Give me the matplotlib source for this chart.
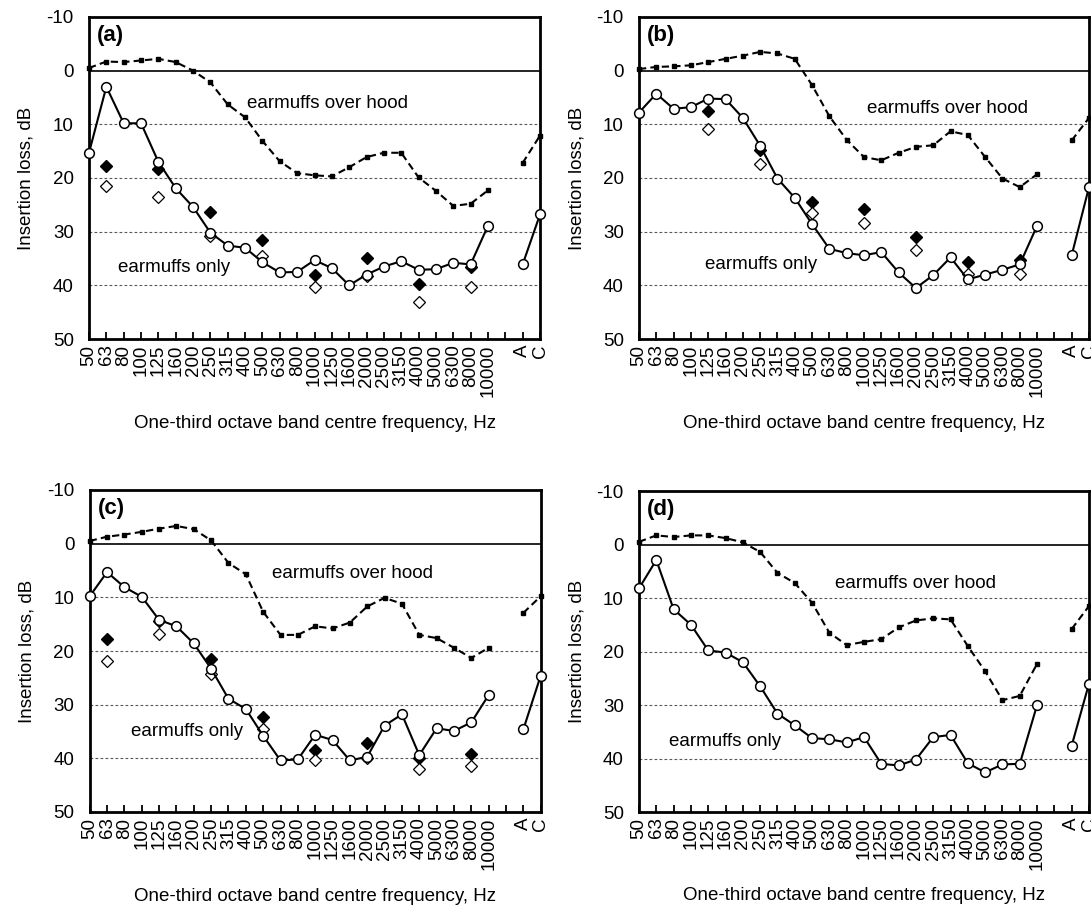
"""
insertion loss of earmuffs, four panels
"""

import numpy as np
import matplotlib as mpl
mpl.use('Agg')
import matplotlib.pyplot as plt

# one-third octave bands, then the A and C weighted totals
bands = ['50','63','80','100','125','160','200','250','315','400','500',
         '630','800','1000','1250','1600','2000','2500','3150','4000',
         '5000','6300','8000','10000']
ratings = ['A','C']

# earmuffs over hood (dashed, small squares)
hood_a = [-0.5,-1.7,-1.6,-1.9,-2.2,-1.6,0.0,2.2,6.3,8.7,13.1,16.9,19.1,19.5,
          19.7,18.0,16.1,15.3,15.3,19.9,22.4,25.2,24.8,22.3]
hood_b = [-0.3,-0.7,-0.8,-1.0,-1.6,-2.2,-2.8,-3.5,-3.2,-2.2,2.7,8.5,12.9,16.1,
          16.7,15.3,14.2,13.9,11.3,12.0,16.1,20.1,21.7,19.3]
hood_c = [-0.5,-1.3,-1.7,-2.2,-2.8,-3.3,-2.7,-0.6,3.6,5.7,12.7,17.0,17.0,15.4,
          15.8,14.7,11.7,10.1,11.2,17.0,17.6,19.4,21.3,19.4]
hood_d = [-0.5,-1.7,-1.4,-1.7,-1.7,-1.2,-0.4,1.4,5.3,7.2,10.9,16.5,18.8,18.2,
          17.7,15.5,14.2,13.8,14.0,19.0,23.7,29.1,28.3,22.3]
hood_ac = [[17.2,12.1],[13.0,8.8],[12.9,9.8],[15.8,11.5]]

# earmuffs only (solid, open circles)
only_a = [15.3,3.0,9.8,9.8,17.0,21.9,25.4,30.2,32.6,33.0,35.7,37.6,37.5,35.3,
          36.8,40.0,38.0,36.5,35.5,37.1,37.0,35.8,36.1,28.9]
only_b = [7.8,4.3,7.1,6.8,5.2,5.3,8.8,14.0,20.1,23.7,28.6,33.2,34.0,34.4,
          33.8,37.6,40.5,38.1,34.8,38.9,38.0,37.1,36.1,28.9]
only_c = [9.8,5.3,8.1,9.9,14.2,15.4,18.6,23.3,28.9,30.8,35.8,40.4,40.2,35.6,
          36.6,40.4,39.7,33.9,31.8,39.4,34.4,34.9,33.3,28.2]
only_d = [8.2,2.9,12.1,15.0,19.8,20.2,22.0,26.5,31.6,33.8,36.2,36.4,37.0,36.0,
          41.0,41.3,40.2,36.0,35.6,40.9,42.6,41.1,41.0,30.0]
only_ac = [[36.1,26.8],[34.4,21.7],[34.6,24.6],[37.6,26.0]]

# diamonds (filled and open), panels a-c only
dia_bands_a = ['63','125','250','500','1000','2000','4000','8000']
dia_full_a = [17.8,18.3,26.3,31.6,38.1,34.9,39.8,36.6]
dia_open_a = [21.4,23.5,30.9,34.5,40.3,38.2,43.1,40.3]
dia_bands_b = ['125','250','500','1000','2000','4000','8000']
dia_full_b = [7.6,14.8,24.4,25.7,31.0,35.7,35.3]
dia_open_b = [10.9,17.3,26.5,28.3,33.5,37.8,37.9]
dia_bands_c = ['63','125','250','500','1000','2000','4000','8000']
dia_full_c = [17.8,14.5,21.5,32.3,38.4,37.1,39.9,39.2]
dia_open_c = [21.8,16.8,24.3,34.6,40.4,39.9,41.9,41.4]

panels = ['(a)','(b)','(c)','(d)']
hood = [hood_a,hood_b,hood_c,hood_d]
only = [only_a,only_b,only_c,only_d]
dia = [(dia_bands_a,dia_full_a,dia_open_a),
       (dia_bands_b,dia_full_b,dia_open_b),
       (dia_bands_c,dia_full_c,dia_open_c),
       None]
# text positions (x in band index, y in dB)
txt_hood = [(9.1,6.2),(13.2,7.0),(10.5,5.6),(11.3,7.2)]
txt_only = [(1.7,36.6),(3.8,36.2),(2.4,35.0),(1.75,36.75)]

# figure layout in pixels
W, H = 1091, 905
ftsize = 13.5
plt.rc('font', family=['Liberation Sans','DejaVu Sans'], size=ftsize)
plt.rc('axes', unicode_minus=False)

boxes = [(89,17,451,322),(639,17,450,322),(89.7,490,451,322),(639,491,450,321)]

fig = plt.figure(figsize=(W/100,H/100), dpi=100)

xb = np.arange(len(bands))
xr = np.array([len(bands)+1, len(bands)+2])
xticks = np.arange(len(bands)+3)
xlabels = bands + [''] + ratings

for i in range(4):
    l, t, w, h = boxes[i]
    ax = fig.add_axes([l/W, 1-(t+h)/H, w/W, h/H])

    for y in [10,20,30,40]:
        ax.axhline(y, color='0.35', lw=0.8, ls=(0,(2.5,2)), zorder=1)
    ax.axhline(0, color='k', lw=1.2, zorder=1)

    ax.plot(xb, hood[i], color='k', lw=1.5, ls=(0,(3.5,2)),
            marker='s', ms=3.5, clip_on=False, zorder=3)
    ax.plot(xr, hood_ac[i], color='k', lw=1.5, ls=(0,(3.5,2)),
            marker='s', ms=3.5, clip_on=False, zorder=3)

    if dia[i] is not None:
        db, df, do = dia[i]
        xd = [bands.index(b) for b in db]
        ax.plot(xd, df, ls='none', marker='D', ms=6, mfc='k', mec='k',
                zorder=4)
        ax.plot(xd, do, ls='none', marker='D', ms=6, mfc='w', mec='k',
                mew=0.9, zorder=4)

    ax.plot(xb, only[i], color='k', lw=1.5, marker='o', ms=7, mfc='w',
            mec='k', mew=1.1, clip_on=False, zorder=5)
    ax.plot(xr, only_ac[i], color='k', lw=1.5, marker='o', ms=7, mfc='w',
            mec='k', mew=1.1, clip_on=False, zorder=5)

    ax.set_xlim(0, len(bands)+2)
    ax.set_ylim(50, -10)
    ax.set_yticks(range(-10,51,10))
    ax.set_xticks(xticks)
    ax.set_xticklabels(xlabels, rotation=90)
    ax.tick_params(axis='x', direction='in', length=5, width=1.3, pad=4)
    ax.tick_params(axis='y', length=0, pad=11)
    for s in ax.spines.values():
        s.set_linewidth(2.0)

    ax.text(0.45, -6.6, panels[i], fontweight='bold', fontsize=16,
            va='center', ha='left')
    ax.text(txt_hood[i][0], txt_hood[i][1], 'earmuffs over hood',
            va='center', ha='left')
    ax.text(txt_only[i][0], txt_only[i][1], 'earmuffs only',
            va='center', ha='left')

    ax.set_ylabel('Insertion loss, dB')
    ax.yaxis.set_label_coords(-0.12, 0.5)
    ax.set_xlabel('One-third octave band centre frequency, Hz')
    ax.xaxis.set_label_coords(0.5, -0.235)

fig.savefig('out.png', dpi=100)
plt.close('all')
